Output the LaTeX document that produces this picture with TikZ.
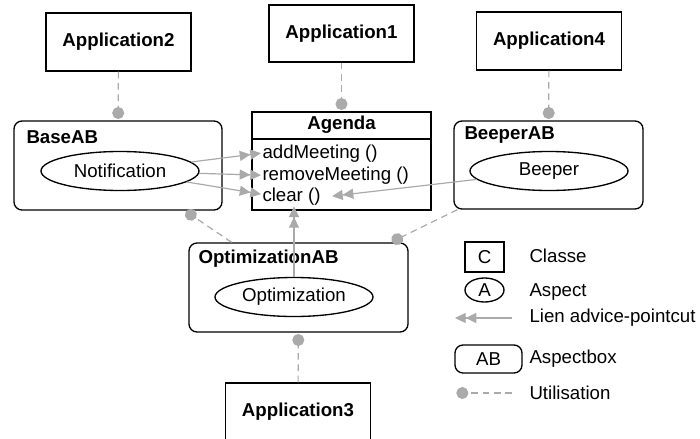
\documentclass[tikz,border=0pt]{standalone}
\usepackage{fontspec}
\setmainfont{Liberation Sans}
\usetikzlibrary{arrows.meta,shapes.geometric}

\definecolor{usegray}{RGB}{170,170,170}
\newcommand{\diagfont}{\fontsize{14}{16.8}\selectfont}

\tikzset{every picture/.style={line width=0.75pt}}
\tikzset{
  lbl/.style={font=\diagfont, inner sep=0.75pt},
  blbl/.style={font=\diagfont\bfseries, inner sep=0.75pt},
  appbox/.style={draw, line width=1pt, minimum width=108.75pt, minimum height=43.5pt, font=\diagfont\bfseries},
  aspbox/.style={draw, line width=1pt, rounded corners=6pt, inner sep=0pt, font=\diagfont},
  aspell/.style={draw, ellipse, line width=1pt, inner sep=0pt, minimum width=118.5pt, minimum height=29.25pt, font=\diagfont},
  advice/.style={draw=usegray, line width=0.9pt, -{Triangle[length=8pt,width=7.5pt]Triangle[length=8pt,width=7.5pt]}},
  usage/.style={draw=usegray, line width=0.9pt, dash pattern=on 5pt off 3.5pt, -{Circle[length=9pt]}, shorten >=1pt},
}

\begin{document}
\begin{tikzpicture}[x=0.75pt,y=0.75pt,yscale=-1,xscale=1]
\useasboundingbox (0,0) rectangle (700,439);

%Shape: Application boxes
\node[appbox] (app2) at (118.5,42) {Application2};
\node[appbox, minimum height=42.75pt] (app1) at (341.5,33.5) {Application1};
\node[appbox] (app4) at (549,41) {Application4};
\node[appbox] (app3) at (298,412) {Application3};

%Shape: Aspectbox BaseAB
\node[aspbox, minimum width=156pt, minimum height=66.75pt] (baseAB) at (118,165.5) {};
% Text Node
\node[blbl, anchor=base west] (baseABtitle) at (25,143) {BaseAB};
\node[aspell] (notif) at (120,171) {Notification};

%Shape: Class Agenda
\node[draw, line width=1pt, minimum width=134.25pt, minimum height=73.5pt] (agenda) at (341.5,161) {};
\node[blbl, minimum width=134.25pt, minimum height=20pt, anchor=north] (agendatitle) at (agenda.north) {Agenda};
\draw[line width=1pt] (agendatitle.south west) -- (agendatitle.south east);
% Text Node
\node[lbl, anchor=base west] (addm) at (261,158) {addMeeting ()};
\node[lbl, anchor=base west] (remm) at (261,180) {removeMeeting ()};
\node[lbl, anchor=base west] (clr) at (261,201) {clear ()};

%Shape: Aspectbox BeeperAB
\node[aspbox, minimum width=141.75pt, minimum height=66pt] (beeperAB) at (548.5,165) {};
% Text Node
\node[blbl, anchor=base west] (beeperABtitle) at (463,139) {BeeperAB};
\node[aspell] (beeper) at (549,171) {Beeper};

%Shape: Aspectbox OptimizationAB
\node[aspbox, minimum width=164.25pt, minimum height=66.75pt] (optimAB) at (298.5,287.5) {};
% Text Node
\node[blbl, anchor=base west] (optimABtitle) at (197,263) {OptimizationAB};
\node[aspell] (optim) at (294,297) {Optimization};

%Links: advice-pointcut
\draw[advice] (notif) -- (addm.west);
\draw[advice] (notif) -- (remm.west);
\draw[advice] (notif) -- ([yshift=-1.5pt]clr.west);
\draw[advice] (beeper) -- ([xshift=7.5pt]clr.east);
\draw[advice] (optim) -- (optim |- clr.south);

%Links: usage
\draw[usage] (app2) -- (baseAB);
\draw[usage] (app1) -- (agenda);
\draw[usage] (app4) -- (beeperAB);
\draw[usage] (app3) -- (optimAB);
\draw[usage] (optimAB) -- (baseAB);
\draw[usage] (beeperAB) -- (optimAB);

%Legend
\node[draw, line width=1pt, minimum width=29.25pt, minimum height=22.5pt, font=\diagfont] (legclass) at (484.5,257) {C};
\node[aspell, minimum width=29.25pt, minimum height=18pt] (legasp) at (484.5,290) {A};
\coordinate (legadvA) at (512,318);
\coordinate (legadvB) at (455,318);
\draw[advice] (legadvA) -- (legadvB);
\node[aspbox, minimum width=50.25pt, minimum height=21pt] (legbox) at (488.5,359) {AB};
\coordinate (leguseA) at (512,393);
\coordinate (leguseB) at (455,393);
\draw[usage] (leguseA) -- (leguseB);

% Text Node
\node[lbl, anchor=west] (txtclass) at (528,256) {Classe};
\node[lbl, anchor=west] (txtasp) at (528,292) {Aspect};
\node[lbl, anchor=west] (txtadv) at (528,318) {Lien advice-pointcut};
\node[lbl, anchor=west] (txtbox) at (528,359) {Aspectbox};
\node[lbl, anchor=west] (txtuse) at (528,393) {Utilisation};

\end{tikzpicture}
\end{document}
